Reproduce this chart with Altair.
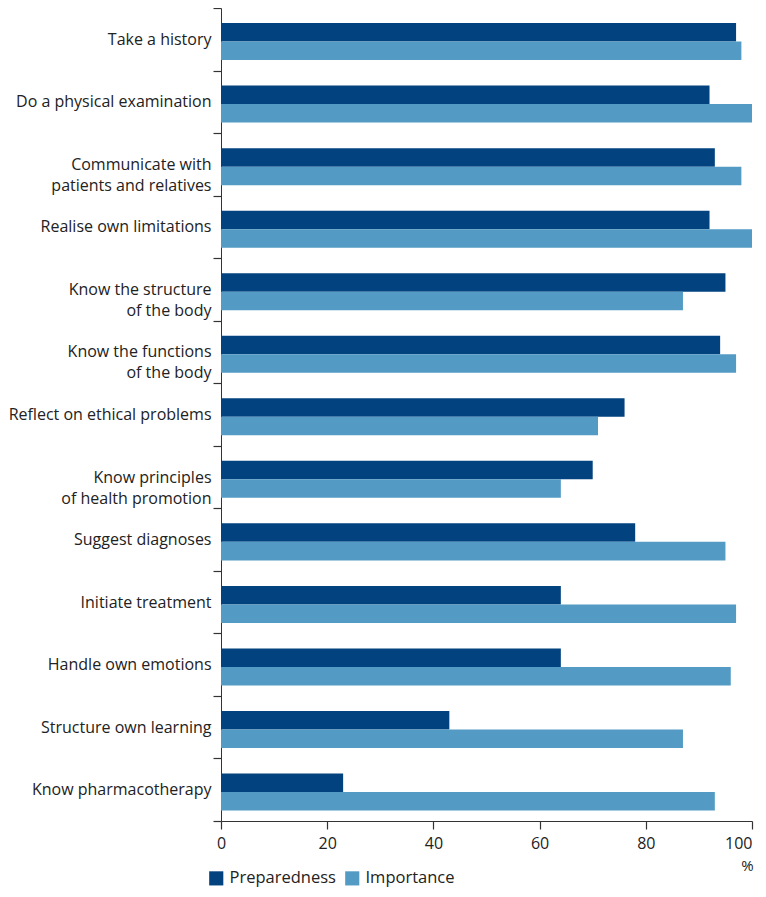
import altair as alt
import pandas as pd

categories = [
    "Take a history",
    "Do a physical examination",
    "Communicate with|patients and relatives",
    "Realise own limitations",
    "Know the structure|of the body",
    "Know the functions|of the body",
    "Reflect on ethical problems",
    "Know principles|of health promotion",
    "Suggest diagnoses",
    "Initiate treatment",
    "Handle own emotions",
    "Structure own learning",
    "Know pharmacotherapy",
]
preparedness = [97, 92, 93, 92, 95, 94, 76, 70, 78, 64, 64, 43, 23]
importance = [98, 100, 98, 100, 87, 97, 71, 64, 95, 97, 96, 87, 93]
series = ["Preparedness", "Importance"]
colors = ["#02427f", "#539bc4"]
x_ticks = [0, 20, 40, 60, 80, 100]

rows = []
for c, p, i in zip(categories, preparedness, importance):
    rows.append({"item": c, "series": series[0], "value": p})
    rows.append({"item": c, "series": series[1], "value": i})
df = pd.DataFrame(rows)

FONT = "Open Sans"
TXT = "#222222"
AX = "#333333"

chart = (
    alt.Chart(df)
    .mark_bar()
    .encode(
        y=alt.Y(
            "item:N",
            sort=categories,
            scale=alt.Scale(paddingInner=0, paddingOuter=0),
            axis=alt.Axis(
                title=None,
                ticks=True,
                tickBand="extent",
                tickSize=8,
                tickWidth=1.2,
                labelPadding=2,
                labelFontSize=16,
                labelFont=FONT,
                labelColor=TXT,
                labelLineHeight=21,
                labelExpr="split(datum.label, '|')",
                domainColor=AX,
                tickColor=AX,
                labelLimit=400,
            ),
        ),
        yOffset=alt.YOffset(
            "series:N",
            sort=series,
            scale=alt.Scale(paddingInner=0, paddingOuter=0.69, align=0.59),
        ),
        x=alt.X(
            "value:Q",
            scale=alt.Scale(domain=[0, 100], nice=False),
            axis=alt.Axis(
                title="%",
                values=x_ticks,
                grid=False,
                tickSize=8,
                tickWidth=1.2,
                labelFontSize=16,
                labelFont=FONT,
                labelColor=TXT,
                labelPadding=6,
                labelAlign={
                    "condition": {"test": "datum.value === 100", "value": "right"},
                    "value": "center",
                },
                domainColor=AX,
                tickColor=AX,
                titleFont=FONT,
                titleFontSize=15,
                titleFontWeight="normal",
                titleColor=TXT,
                titleX=526,
                titleY=44,
                titleAlign="center",
                titleBaseline="middle",
            ),
        ),
        color=alt.Color(
            "series:N",
            sort=series,
            scale=alt.Scale(domain=series, range=colors),
            legend=alt.Legend(
                title=None,
                orient="none",
                direction="horizontal",
                legendX=-13,
                legendY=862,
                symbolType="square",
                symbolSize=200,
                symbolStrokeWidth=0,
                labelFontSize=16.5,
                labelFont=FONT,
                labelColor=TXT,
                labelOffset=5,
                columnPadding=8,
            ),
        ),
    )
    .properties(
        width=531,
        height=813,
        padding={"left": 213, "top": 0, "right": 6, "bottom": 68},
        autosize=alt.AutoSizeParams(type="none"),
    )
    .configure_view(stroke=None)
)

chart.save("out.html", embed_options={"renderer": "svg", "actions": False})
